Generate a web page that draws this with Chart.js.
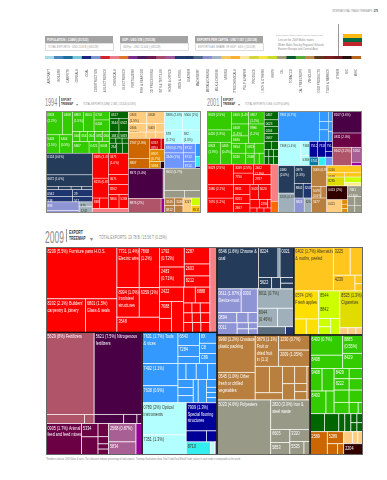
<!DOCTYPE html>
<html lang="en">
<head>
<meta charset="UTF-8">
<title>Lithuania export treemaps</title>
<script src="https://cdn.jsdelivr.net/npm/chart.js"></script>
<style>
  body { margin: 0; background: #fff; font-family: "Liberation Sans", Arial, sans-serif; }
  #page { position: relative; width: 387px; height: 480px; overflow: hidden; }
  canvas { position: absolute; }
  .t { position: absolute; white-space: nowrap; color: #8a8a8a; line-height: 1; transform: scaleX(0.58); transform-origin: 0 0; }
  .head { position: absolute; height: 7px; width: 68px; background: #a3a3a3; color: #fff; font-size: 4.4px; line-height: 7px; font-weight: bold; white-space: nowrap; overflow: hidden; }
  .sub { position: absolute; height: 6px; width: 67px; border: 0.5px solid #ddd; color: #999; font-size: 4.2px; line-height: 6px; white-space: nowrap; overflow: hidden; }
  .head span, .sub span { display: inline-block; margin-left: 2px; transform: scaleX(0.64); transform-origin: 0 50%; }
  .bar { position: absolute; background: #999; }
  .year { color: #8c8c8c; transform: scaleX(0.5); }
  .tm { color: #333; font-weight: bold; line-height: 1.15; transform: scaleX(0.65); }
</style>
</head>
<body>
<div id="page">
  <div class="t" style="left:332px;top:9px;font-size:4px">INTERNATIONAL TRADE TREEMAPS | <b style="color:#333">279</b></div>

  <div class="head" style="left:45px;top:36px"><span>POPULATION : 3.34M | (51/122)</span></div>
  <div class="sub" style="left:45px;top:43px"><span>TOTAL EXPORTS : USD 23.8 B | (66/128)</span></div>
  <div class="head" style="left:120px;top:36px"><span>GDP : USD 37B | (75/128)</span></div>
  <div class="sub" style="left:120px;top:43px"><span>GDPpc : USD 11,043 | (43/128)</span></div>
  <div class="head" style="left:195px;top:36px"><span>EXPORTS PER CAPITA : USD 7,057 | (35/128)</span></div>
  <div class="sub" style="left:195px;top:43px"><span>EXPORTS AS SHARE OF GDP : 64% | (11/128)</span></div>

  <div class="t" style="left:276px;top:35px;width:81px;border-top:0.5px dotted #bbb"></div>
  <div class="t" style="left:278px;top:38px;font-size:3.8px;line-height:4.6px;transform:scaleX(0.72)">Lies on the 2009 Baltic states<br>Wider Baltic Sea by Regional Schools<br>Eastern Europe and Central Asia</div>
  <div class="bar" style="left:338px;top:24px;width:0.7px;height:33px"></div>
  <div class="bar" style="left:343px;top:34px;width:19px;height:4px;background:#fdb913"></div>
  <div class="bar" style="left:343px;top:38px;width:19px;height:4px;background:#006a44"></div>
  <div class="bar" style="left:343px;top:42px;width:19px;height:4px;background:#c1272d"></div>

  <canvas id="legendStrip" width="317" height="37" style="left:45px;top:56px"></canvas>

  <div class="t year" style="left:45px;top:97px;font-size:11px">1994</div>
  <div class="bar" style="left:59px;top:96px;width:0.7px;height:11px"></div>
  <div class="t tm" style="left:61px;top:98px;font-size:3.8px">EXPORT<br>TREEMAP</div>
  <div class="t" style="left:76px;top:103px;font-size:4px;transform:none">&#9662;</div>
  <div class="t" style="left:83px;top:102px;font-size:4.2px">TOTAL EXPORTS (US$): 2,381 | 13,520 (0.33%)</div>
  <canvas id="map1994" width="155" height="102" style="left:46px;top:111px"></canvas>

  <div class="t year" style="left:207px;top:97px;font-size:11px">2001</div>
  <div class="bar" style="left:221px;top:96px;width:0.7px;height:11px"></div>
  <div class="t tm" style="left:223px;top:98px;font-size:3.8px">EXPORT<br>TREEMAP</div>
  <div class="t" style="left:238px;top:103px;font-size:4px;transform:none">&#9662;</div>
  <div class="t" style="left:245px;top:102px;font-size:4.2px">TOTAL EXPORTS: 5,856 | 6,079 (0.09%)</div>
  <canvas id="map2001" width="155" height="102" style="left:207px;top:111px"></canvas>

  <div class="t year" style="left:45px;top:229px;font-size:17px">2009</div>
  <div class="bar" style="left:66px;top:229px;width:0.7px;height:13px"></div>
  <div class="t tm" style="left:69px;top:230px;font-size:5.2px">EXPORT<br>TREEMAP</div>
  <div class="t" style="left:90px;top:236px;font-size:6px;transform:none">&#9662;</div>
  <div class="t" style="left:99px;top:235px;font-size:5.8px">TOTAL EXPORTS: 23.78 B / 15.56 T (0.15%)</div>
  <canvas id="map2009" width="317" height="208" style="left:46px;top:247px"></canvas>

  <div class="t" style="left:46px;top:458px;font-size:3.4px;transform:scaleX(0.66)">*Numbers indicate 2009 Value & rates. The indicators indicate percentage of total exports. Treemap illustrations show Total Trade/Total World Trade; values in each node is comparable to the world.</div>
</div>

<script>
  // legend strip
  const stripCategories = ['AIRCRAFT','BOILERS','CARPETS','CEREALS','COAL','CONSTRUCTION','CONSTRUCTION & ELECTRONICS','CHEMICALS','ELECTRONICS','FERTILIZERS','FISH & SEAFOOD','FOOD PROCESSING','GARMENTS & TEXTILES','HOME & OFFICE','IRON & STEEL','LEATHER','MACHINERY','METALWORKING','MILK & CHEESE','MINING','PETROCHEMICALS','PULP & PAPER','PRODUCE','COTTON, RICE, SOY & OTHERS','SHIPS','OIL','TOBACCO','TROPICAL TREECROPS','VEHICLES','WOOD PRODUCTS','TEXTILES & FABRICS','OTHER','N/C','MISC'];
  const stripValues = [1,1,1,1,1,1,1,1,1,1,1,1,1,1,1,1,1,1,1,1,1,1,1,1,1,1,1,1,1,1,1,1,1,1];
  const stripColors = ['#a7d8e8','#4a86c0','#1c6e9f','#7ac8d8','#1a237e','#7f95cf','#d2232a','#e67c8c','#e0762a','#7b2d8e','#4a1a5e','#6b1a50','#a84a6c','#a0589a','#233a6e','#1f3a68','#4f6a86','#8a90cc','#9fb4c4','#f6c85f','#fbb034','#fde7a0','#d4d43c','#f5e642','#c8d930','#a39e80','#0b5a2e','#58a83a','#b98a4e','#5a3a1e','#7a1f1f','#6a1a1a','#2a0f0f','#b8661e'];

  // colours of the product communities
  const communityColors = {
    red:'#ff0000', pink:'#f77f86', hot:'#ff6a00', navy:'#243c5a', navy2:'#1f3570', peri:'#8f94d4', slate:'#9fb0bb', steel:'#5b6e80',
    amber:'#ffc61e', yellow:'#ffdf00', lime:'#ccff00', olive:'#e0dc00', peach:'#ffcc80', rose:'#b0546a', purple:'#4a0045',
    wine:'#6b0045', mauve:'#a85f94', magenta:'#990099', blue:'#3399ff', ice:'#b3ffff', cobalt:'#000099', cyan:'#33eeee',
    teal:'#0a7aa0', sky:'#6f96ff', brown:'#b97f3f', gray:'#999988', green:'#33cc00', forest:'#006600', orange:'#cc6600',
    deep:'#e08a00', crimson:'#cc0000', coffee:'#330000', pale:'#ffee88'
  };

  // 2009 shares, thousandths of exports
  const red2009 = group('red', [
    [cell(54,"8209 (5.5%) Furniture parts H.O.S."), [cell(19.5,"8202 (2.1%) Builders'\ncarpentry & joinery"), cell(15.5,"6801 (1.5%)\nGlass & seals")]],
    [[cell(13.3,'7731 (1.4%)\nElectric wire'), cell(12.1,'7868\n(1.2%)')], [cell(9.7,'8994 (1.0%)\nIron/steel\nstructures'), cell(8.8,'6359 (1%)')], cell(9.5,'3548')],
    [[[cell(7.3,'1792\n(0.72%)'), cell(7.3,'2483\n(0.71%)')], [cell(6.4,'2287'), cell(4.5,'2603'), cell(4.2,'8212')]],
     [[cell(5.1,'2422'), [[cell(3,'7688'), 2.5], 5.5]],
      [[2.7, cell(3.4,'8888')], [1.2,1.2,1.4], [1.2,1.2,1.3], [1.3,1.2,1.3]]]],
    group('pink', 8.9)
  ]);
  const mauve2009 = [
    [group('rose', [cell(58,'5629 (8%) Fertilizers'), [5.2,1.3]]),
     group('purple', [cell(57.7,'5621 (7.5%) Nitrogenous\nfertilizers'), [4,1.8,0.7]])],
    [group('wine', [[cell(16.4,'0905 (1.7%) Animal\nfeed and feed mixes'), [cell(3.2,'5334'),4.4], [2,1.1,0.8,0.9]]]),
     [[group('mauve', [cell(7.4,'2568 (0.87%)'), cell(5.3,'5834')]), group('magenta', 2.8)]]]
  ];
  const blue2009 = [
    group('blue', [
      [cell(16.4,'7631 (1.7%) Tools\n& vices'), cell(11.7,'7492 (1.1%)'), cell(9,'7638 (0.9%)')],
      [[[cell(4.1,'6843'), cell(3.5,'7284'), 2.2], [cell(2.8,'8X'), cell(2.6,'C8'), cell(2.6,'C89')]],
       [1.9,2.4,2.7,2.2],
       [[1.8,1.8,1.6],1.7,2.8,[1.2,0.8,0.8,0.8]]]
    ]),
    [group('ice', [cell(20.8,'0780 (2%) Optical\ninstruments'), cell(13,'7351 (1.3%)')]),
     [group('cobalt', cell(12.7,'7909 (1.3%)\nSpecial flooring\nstructures')), group('cobalt', [3.3,1.7]), [group('cyan', cell(4.7,'8710')), group('ice', 0.8), group('sky', 0.4)]]]
  ];
  const navy2009 = [
    group('navy', [cell(25.5,'6546 (1.6%) Chrome &\ncoal'), [[cell(8.8,'8224'), group('steel',0.9), cell(6.2,'0021')], [cell(2.2,'5622'), 1.5, [1.1,1.1]]]]),
    [group('peri', [[cell(8.4,'0611 (1.87%)\nDevice-must'), cell(5.6,'0300')], [cell(3,'0894'),1.7,1.4], [cell(3.6,'0011'),[1,1],[0.8,0.8]]]),
     group('slate', [cell(10.4,'8011 (0.7%)'), [cell(5.5,'8044\n(0.46%)'),4.4], [group('steel',3.4), group('navy2',1)]])]
  ];
  const yellow2009 = [
    group('amber', [cell(25.5,'0402 (1.7%) Alternating\n& moths, peeled'), [[cell(7,'3225'),5.3], [cell(5,'4239'),[1,0.85]]]]),
    [group('yellow', [cell(10.2,'0574 (1%)\nFresh apples'), [2.9,2.9]]),
     group('lime', [cell(8.6,'8544\n\n8842'), [[1.45,1.45],2.2]]),
     [group('olive', cell(12.5,'8525 (1.3%)\nCigarettes')), group('peach', [0.85,0.85,0.74])]]
  ];
  const brownGray2009 = [
    group('brown', [
      [cell(21,'9990 (1.2%) Crustacean\nplastic packing'), cell(15.5,'0545 (1.0%) Other\nfresh or chilled\nvegetables')],
      [[cell(10.8,'0679 (1.1%)\nFruit or\ndried fruit\nin (1.1)'), [cell(7,'1230 (0.7%)'), cell(7.5,'2009 (1.05%)')]],
       [[[5.5,5.1],2.9], [3.1,2.9], [3.1,1.5,1.5], 1.5]]
    ]),
    group('gray', [cell(43.4,'5023 (4.6%) Polyesters'),
      [cell(17,'2820 (3.0%) Iron &\nsteel waste'), [[cell(3.7,'6605'),cell(3.5,'5853')], [cell(3.6,'3320'),[cell(2.8,'5535'),1.2]]]]])
  ];
  const greenOrange2009 = [
    group('green', [[
      [[cell(9.7,'6403 (0.7%)'), cell(6.3,'8408')], [cell(5.5,'8885\n(0.55%)'), cell(4.5,'8429')]],
      [[[cell(4,'9408'),4], [cell(5.3,'8403'),2.7]],
       [[cell(2.3,'8429'),2.1], [cell(2.5,'8222'),2.3], [2.7,2.5], [2.5,1.5,0.8]]]
    ]]),
    group('forest', [3.8,3.8,1.6,1.6,[0.8,0.8],[0.8,0.8]]),
    [group('orange', cell(5.9,'2589')), group('orange', [cell(2.9,'5289'),[1.7,1]]),
     [group('peach', [1.6,0.9,0.9]), group('coffee', cell(3.2,'2204'))]]
  ];
  const tree2009 = [
    [block(red2009), [block(mauve2009), block(blue2009)]],
    [[block(navy2009), block(yellow2009)], [block(brownGray2009), block(greenOrange2009)]]
  ];

  // 1994 shares
  const green1994 = group('green', [[
    [[cell(25,'0803\n(2.2%)'), cell(15,'0408')], [cell(15.4,'5403\n(1.5%)'), cell(15.4,'5404\n(0.5%)')]],
    [[cell(14.3,'0803\n(1.5%)'), cell(13.9,'0504'), [cell(8.9,'0702'), cell(11.5,'0404')]],
     [cell(4.7,'0441'),cell(4.7,'0542'),cell(4.7,'0542'),cell(4.7,'0812'),cell(4.7,'0542')],
     [cell(12.2,'5807'),cell(7.3,'0421'),cell(7.8,'6643')]]
  ]]);
  const forest1994 = group('forest', [cell(8.6,'0517'), [cell(7.8,'3544'),cell(7.8,'0522')], [cell(3.9,'1581'),cell(3.9,'5819')], [2,2,2], [cell(4.2,'2547'),3.8,3.8]]);
  const navy1994 = [
    group('navy', [[cell(63.8,'0124 (0.6%)'), [cell(33.8,'6672 (1.0%)\n\n\n\n\n\n0390')], [2.7,2.7,2.3,2.3]]]),
    [[group('navy2', [cell(11.5,'0541\n(0.7%)'),cell(8.6,'29')]), group('navy2', [cell(9,'538'),cell(6.7,'517')]),
      [[group('peri', cell(18,'893\n(0.7%)')), group('peri', 5.2)], [group('slate', cell(4.2,'875')), group('slate', cell(5.2,'1242'))]]]]
  ];
  const red1994 = [
    [group('red', [cell(25.2,'8485 (3.4%)'), cell(20.1,'8215 (0.8%)'), [cell(4.9,'8480'),5.8]]),
     group('red', [cell(27,'3471\n(1.0%)'), cell(12.6,'3671'), cell(12.6,'8262'), [cell(9.4,'5866'),cell(8.2,'5283')]])],
    group('pink', 9.8)
  ];
  const orange1994 = [
    group('peach', [[[cell(14.7,'0303\n(1.5%)'),cell(14,'0808')], [cell(10,'0306\n(0.5%)'),cell(4.8,'5405'),4.8], [7,3.8,3.5]]]),
    [group('orange', [cell(27.3,'2707 (2.0%)'), cell(13.6,'3807')]),
     [[group('crimson', cell(7.8,'6357\n(8%)')), group('crimson',2.3)], group('deep', cell(11.4,'8907\n(0.7%)')), [group('deep', cell(4.5,'5894')), group('coffee',1.7)]]],
    [group('purple', cell(66,'8871 (3.4%)')), group('gray',2.5)],
    [group('rose', cell(30.5,'8875 (2%)')), group('magenta',3.1)]
  ];
  const right1994 = [
    group('ice', [[[cell(22,'5986 (2.6%)'),cell(22,'5500 (2%)')], [cell(15.4,'578\n(1.2%)'),cell(16.4,'592\n(1.0%)')]]]),
    [group('sky', [cell(11,'6703 (0.7%)'),cell(18.3,'2446 (1%)')]), group('sky', [cell(7,'8712'),cell(6.5,'8712'),cell(5.2,'8712')]),
     [group('blue',4.4), group('cyan',3.6), group('cobalt',0.6)]],
    group('gray', [[cell(52,'5502 (5.7%)'), [9.4,7.6]]]),
    [group('brown', [[cell(4.9,'3245'),cell(3.9,'3246')], [cell(4.9,'5812'),3.9]]), group('peach', cell(7.9,'3247')), [group('lime',4.7), group('amber', cell(4.5,'8511'))]]
  ];
  const tree1994 = [
    [[green1994, forest1994], [navy1994, red1994]],
    orange1994,
    right1994
  ];

  // 2001 shares
  const green2001 = group('green', [[
    [cell(29.5,'8629 (2.5%)'), cell(19,'0420 (1.9%)'), [cell(18.5,'0803\n(1.9%)'),cell(15.7,'0405\n(0.4%)')]],
    [[cell(14,'0405 (1.4%)'),cell(12.8,'0807\n(1.2%)')],
     [[cell(12.8,'0408\n(1.4%)'),cell(7.8,'8486')], cell(19,'9986\n(1.2%)')],
     [cell(9,'9454'),cell(5.2,'0823'),6.3],
     [cell(9.9,'8246'),cell(5.8,'2568'),3.5,3.5]]
  ]]);
  const forest2001 = group('forest', [cell(7.9,'0467'),cell(5.9,'0023'),cell(6.5,'0204'),cell(6.8,'0567'),[3.7,3.7],[2,2,2],[2.3,2.3,2.3]]);
  const red2001 = [
    group('red', [cell(34.7,'8629 (2.5%)'),cell(22.4,'2080 (2.1%)'),cell(25,'7070 (1.2%)')]),
    group('red', [
      [[cell(11.3,'3039 (2.5%)'),cell(14.7,'7750')], [cell(11.6,'2462\n(1.9%)'),cell(10.9,'2787')]],
      [[cell(10.3,'8911'),cell(9.3,'8263'),cell(9.6,'2467')],
       [[cell(7.9,'5020'),cell(12,'3020')], [4.9,cell(4.4,'2280'),1.7], [2.2,2.2,2.2]]]
    ]),
    [group('pink',17), group('hot',5.4)]
  ];
  const blue2001 = [
    group('blue', [cell(79,'7861 (6.7%)'), [6,4.7,6.6], [2.9,2.7,2.7]]),
    [group('ice', cell(34.7,'7368 (1.4%)')), group('ice', [cell(7.3,'7368'),cell(5.4,'5368')]),
     [group('cobalt', [cell(8.2,'7512'),cell(7.6,'7518'),[cell(4.6,'7514'),2.6]]), [group('teal',cell(5.1,'5741')), group('cyan',3.6), group('sky',4)]]]
  ];
  const purple2001 = [
    group('purple', cell(41,'8107 (3.6%)')),
    group('wine', cell(26.4,'0811 (2.0%)')),
    [group('rose', cell(22.3,'8102 (2.2%)')), [group('mauve', cell(10,'5264')), group('magenta',2.2)]]
  ];
  const navy2001 = [[
    [group('navy', cell(27.5,'2480\n(2.0%)')), group('slate', cell(20,'3205 (0.5%)'))],
    [group('navy', cell(19.6,'0976\n(1.3%)')), [group('navy', cell(8.1,'8841')), group('navy2', cell(7.5,'5241'))], [group('peri', cell(9.4,'3824')), group('slate', cell(6.9,'6261'))]]
  ]];
  const brown2001 = group('brown', [cell(20,'3005 (0.9%)'), [cell(7,'5078\n(0.6%)'),4.3], cell(14.5,'3477')]);
  const right2001 = [
    [[group('amber', [[cell(14.7,'5240\n(1.9%)'), [cell(5.2,'0539'),5.2]]]),
      [group('olive', cell(9.9,'8285')), [group('lime',6.3), group('pale',3.6)]]]],
    [[group('coffee', cell(18.2,'0413 (2%)')), [group('peach', cell(12.6,'0421')), group('deep', [1.6,1.6,1.6])]],
     group('gray', [cell(9.6,'7061\n(1.5%)'), [3.9,3.9], [3.5,3.5]])]
  ];
  const tree2001 = [
    [[green2001, forest2001], red2001],
    [[blue2001, purple2001], [navy2001, brown2001, right2001]]
  ];

  function cell(v, t) { return { v, t }; }
  function group(key, node) { return { key, node }; }
  function block(node) { return { frame: true, node }; }

  function weight(n) {
    if (typeof n === 'number') return n;
    if (Array.isArray(n)) return n.reduce((s, c) => s + weight(c), 0);
    return n.node !== undefined ? weight(n.node) : n.v;
  }

  // slices the tree, direction flips on each array level
  function layout(n, x0, y0, x1, y1, across, key, out) {
    if (Array.isArray(n)) {
      const total = weight(n);
      let done = 0;
      n.forEach(c => {
        const a = done / total, b = (done + weight(c)) / total;
        if (across) layout(c, x0 + (x1 - x0) * a, y0, x0 + (x1 - x0) * b, y1, false, key, out);
        else layout(c, x0, y0 + (y1 - y0) * a, x1, y0 + (y1 - y0) * b, true, key, out);
        done += weight(c);
      });
    } else if (n && n.node !== undefined) {
      if (n.frame) out.frames.push({ x: x0, y: y0, x2: x1, y2: y1 });
      layout(n.node, x0, y0, x1, y1, across, n.key || key, out);
    } else {
      out.cells.push({ x: x0, y: y0, x2: x1, y2: y1, key, text: n.t || '' });
    }
  }

  function isLight(hex) {
    const r = parseInt(hex.slice(1, 3), 16), g = parseInt(hex.slice(3, 5), 16), b = parseInt(hex.slice(5, 7), 16);
    return (0.3 * r + 0.59 * g + 0.11 * b) > 165;
  }

  const cellPlugin = {
    id: 'cells',
    afterDatasetsDraw(chart, args, opts) {
      const { ctx, scales: { x, y } } = chart;
      const box = p => {
        const a = x.getPixelForValue(p.x), b = y.getPixelForValue(p.y);
        return [a, b, x.getPixelForValue(p.x2) - a, y.getPixelForValue(p.y2) - b];
      };
      ctx.save();
      chart.data.datasets[0].data.forEach(p => {
        const [a, b, w, h] = box(p);
        const fill = communityColors[p.key] || '#999';
        ctx.fillStyle = fill;
        ctx.fillRect(a, b, w, h);
        ctx.strokeStyle = 'rgba(255,255,255,0.8)';
        ctx.lineWidth = opts.cellLine;
        ctx.strokeRect(a, b, w, h);
        if (p.text) {
          ctx.save();
          ctx.beginPath();
          ctx.rect(a, b, w, h);
          ctx.clip();
          ctx.fillStyle = isLight(fill) ? '#3a3a2a' : '#fff';
          ctx.font = opts.fontSize + 'px "Liberation Sans", sans-serif';
          ctx.textBaseline = 'top';
          ctx.translate(a + 1.5, b + 2);
          ctx.scale(0.72, 1);
          p.text.split('\n').forEach((line, i) => ctx.fillText(line, 0, i * opts.fontSize * 1.3));
          ctx.restore();
        }
      });
      chart.data.datasets[1].data.forEach(p => {
        const [a, b, w, h] = box(p);
        ctx.strokeStyle = '#151515';
        ctx.lineWidth = 1.2;
        ctx.strokeRect(a, b, w, h);
      });
      ctx.strokeStyle = opts.frameColor;
      ctx.lineWidth = 1;
      ctx.strokeRect(0.5, 0.5, chart.width - 1, chart.height - 1);
      ctx.restore();
    }
  };

  function drawTreemap(id, tree, fontSize, cellLine, frameColor) {
    const out = { cells: [], frames: [] };
    layout(tree, 0, 0, 100, 100, true, 'gray', out);
    new Chart(document.getElementById(id), {
      type: 'scatter',
      data: { datasets: [
        { data: out.cells, pointRadius: 0 },
        { data: out.frames, pointRadius: 0 }
      ] },
      options: {
        responsive: false,
        animation: false,
        layout: { padding: 0 },
        plugins: {
          legend: { display: false },
          tooltip: { enabled: false },
          cells: { fontSize, cellLine, frameColor }
        },
        scales: {
          x: { type: 'linear', display: false, min: 0, max: 100 },
          y: { type: 'linear', display: false, min: 0, max: 100, reverse: true }
        }
      },
      plugins: [cellPlugin]
    });
  }

  new Chart(document.getElementById('legendStrip'), {
    type: 'bar',
    data: {
      labels: stripCategories,
      datasets: [{ data: stripValues, backgroundColor: stripColors, categoryPercentage: 1, barPercentage: 1 }]
    },
    options: {
      responsive: false,
      animation: false,
      layout: { padding: 0 },
      plugins: { legend: { display: false }, tooltip: { enabled: false } },
      scales: {
        y: { display: false, min: 0, max: 1 },
        x: {
          afterFit(scale) { scale.height = 34; },
          grid: { display: false },
          border: { display: false },
          ticks: { autoSkip: false, minRotation: 90, maxRotation: 90, padding: 2, color: '#555', font: { size: 2.9, family: '"Liberation Sans", sans-serif' } }
        }
      }
    }
  });

  drawTreemap('map1994', tree1994, 4.2, 0.5, '#8a8a80');
  drawTreemap('map2001', tree2001, 4.2, 0.5, '#8a8a80');
  drawTreemap('map2009', tree2009, 5.2, 0.8, '#666');
</script>
</body>
</html>
